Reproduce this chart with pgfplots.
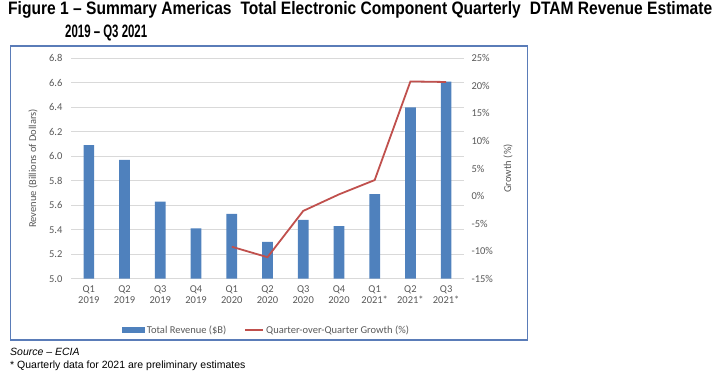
\documentclass[border=0pt]{standalone}
\usepackage{fontspec}
\setmainfont{Carlito}
\newfontfamily\arialfont{Liberation Sans}
\usepackage{graphicx}
\usepackage{pgfplots}
\pgfplotsset{compat=1.18}
\definecolor{barblue}{HTML}{4F81BD}
\definecolor{linered}{HTML}{C0504D}
\definecolor{gridgray}{HTML}{D9D9D9}
\definecolor{txtgray}{HTML}{595959}
\definecolor{bordercol}{HTML}{5A7CB8}
\begin{document}
\begin{tikzpicture}[x=1pt,y=1pt]
\path[use as bounding box] (0,0) rectangle (720,387);
\draw[bordercol, line width=1.3pt] (10.5,341) rectangle (527.7,47);
\node[anchor=west, inner sep=0] at (8,377) {\resizebox{704pt}{\height}{\arialfont\fontsize{18}{20}\selectfont\bfseries Figure 1 – Summary Americas\hspace{0.3em} Total Electronic Component Quarterly\hspace{0.3em} DTAM Revenue Estimate}};
\node[anchor=west, inner sep=0] at (65,354) {\resizebox{82pt}{\height}{\arialfont\fontsize{18}{20}\selectfont\bfseries 2019 – Q3 2021}};
\node[anchor=west, inner sep=0] at (10,35) {\arialfont\fontsize{10.5}{12}\selectfont\itshape Source – ECIA};
\node[anchor=west, inner sep=0] at (10,21) {\arialfont\fontsize{10.5}{12}\selectfont * Quarterly data for 2021 are preliminary estimates};
\begin{axis}[
  at={(71pt,108.3pt)}, anchor=south west,
  width=393pt, height=220.4pt, scale only axis,
  xmin=-0.5, xmax=10.5, ymin=5, ymax=6.8,
  ytick={5,5.2,5.4,5.6,5.8,6.0,6.2,6.4,6.6,6.8},
  /pgf/number format/fixed, /pgf/number format/fixed zerofill, /pgf/number format/precision=1,
  /pgf/number format/assume math mode=true,
  xtick={0,...,10},
  xticklabels={{Q1\\2019},{Q2\\2019},{Q3\\2019},{Q4\\2019},{Q1\\2020},{Q2\\2020},{Q3\\2020},{Q4\\2020},{Q1\\2021*},{Q2\\2021*},{Q3\\2021*}},
  xticklabel style={align=center, font=\fontsize{10.5}{11.5}\selectfont, text=txtgray, yshift=-3pt},
  yticklabel style={font=\fontsize{10.5}{12}\selectfont, text=txtgray, xshift=-5pt},
  axis line style={draw=none},
  tick style={draw=none},
  ymajorgrids, grid style={draw=gridgray, line width=0.9pt},
  every axis y label/.style={at={(axis description cs:-0.0967,0.5)}, rotate=90, anchor=center, font=\fontsize{10.5}{12}\selectfont, text=txtgray},
  ylabel={Revenue (Billions of Dollars)},
]
\addplot[ybar, bar width=10.7pt, fill=barblue, draw=none] coordinates {
(0,6.09) (1,5.97) (2,5.63) (3,5.41) (4,5.53) (5,5.30) (6,5.48) (7,5.43) (8,5.69) (9,6.40) (10,6.61)};
\end{axis}
\begin{axis}[
  at={(71pt,108.3pt)}, anchor=south west,
  width=393pt, height=220.4pt, scale only axis,
  xmin=-0.5, xmax=10.5, ymin=-15, ymax=25,
  ytick={-15,-10,-5,0,5,10,15,20,25},
  /pgf/number format/assume math mode=true,
  yticklabel={\pgfmathprintnumber{\tick}\%},
  axis y line*=right, axis x line=none,
  axis line style={draw=none},
  tick style={draw=none},
  xtick=\empty,
  yticklabel style={font=\fontsize{10.5}{12}\selectfont, text=txtgray, anchor=west, xshift=4pt},
  every axis y label/.style={at={(axis description cs:1.112,0.5)}, rotate=90, anchor=center, font=\fontsize{10.5}{12}\selectfont, text=txtgray},
  ylabel={Growth (\%)},
  legend style={at={(axis description cs:0.498,-0.233)}, anchor=center, draw=none, fill=none, legend columns=2, font=\fontsize{10.5}{12}\selectfont, text=txtgray, /tikz/every even column/.append style={column sep=16pt}},
]
\addlegendimage{legend image code/.code={\fill[barblue] (0pt,-2.5pt) rectangle (22pt,2.5pt);}}
\addlegendentry{Total Revenue (\$B)}
\addplot[linered, line width=1.8pt, legend image code/.code={\draw[linered, line width=1.8pt] (0pt,0pt) -- (18pt,0pt);}] coordinates {
(4,-9.2) (5,-11.1) (6,-2.7) (7,0.3) (8,2.9) (9,20.8) (10,20.7)};
\addlegendentry{Quarter-over-Quarter Growth (\%)}
\end{axis}
\end{tikzpicture}
\end{document}
